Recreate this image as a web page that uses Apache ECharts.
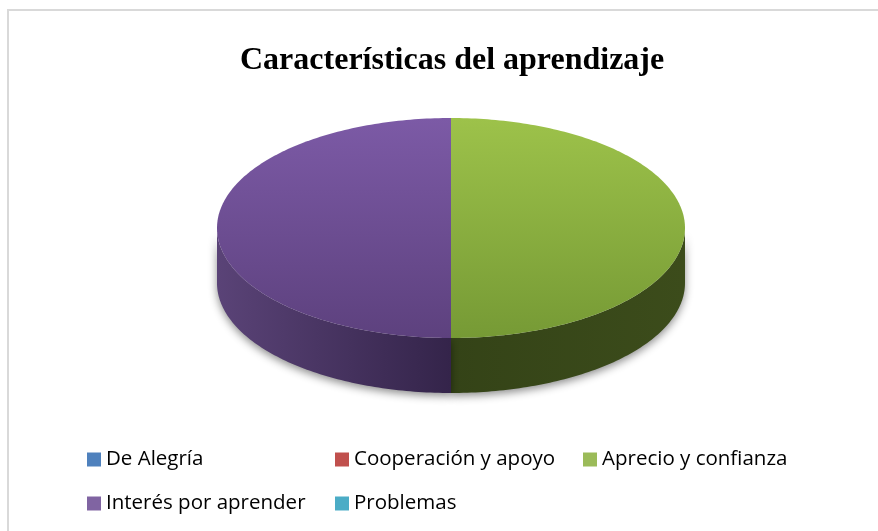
<!DOCTYPE html>
<html>
<head>
<meta charset="utf-8">
<script src="https://cdn.jsdelivr.net/npm/echarts@6/dist/echarts.min.js"></script>
<style>
  html, body { margin: 0; padding: 0; background: #fff; }
  #chart { width: 878px; height: 531px; }
</style>
</head>
<body>
<div id="chart"></div>
<script>
// datos del gráfico
var categorias = ['De Alegría', 'Cooperación y apoyo', 'Aprecio y confianza', 'Interés por aprender', 'Problemas'];
var valores = [0, 0, 50, 50, 0];
var colores = ['#4f81bd', '#c0504d', '#9bbb59', '#8064a2', '#4bacc6'];
// caras superiores (arriba, abajo) y laterales (izq, der)
var coloresTop = [['#5b8fd0', '#3f6da6'], ['#d35e5a', '#a8403d'], ['#9dc24a', '#769a35'], ['#7c5aa6', '#5d417e'], ['#55bcd8', '#3a93aa']];
var coloresLado = [['#2b4a70', '#213a58'], ['#6e2b29', '#562120'], ['#344317', '#3c4c1b'], ['#5a4377', '#34244a'], ['#2a6575', '#1f4d59']];

// geometría de la tarta 3D
var cx = 451, cy = 228, rx = 234, ry = 110, alto = 55;

var total = valores.reduce(function (a, b) { return a + b; }, 0);
var inicios = [];
var acum = 0;
valores.forEach(function (v) { inicios.push(acum / total * 360); acum += v; });

function punto(grados, dy) {
  var t = grados * Math.PI / 180;
  return [cx + rx * Math.sin(t), cy - ry * Math.cos(t) + (dy || 0)];
}

function renderItem(params, api) {
  var i = params.dataIndex;
  var v = api.value(1);
  if (!v) return;
  var a0 = inicios[i];
  var a1 = a0 + v / total * 360;
  var hijos = [];

  // lado visible (entre 90 y 270 grados)
  var s0 = Math.max(a0, 90), s1 = Math.min(a1, 270);
  if (s1 > s0) {
    var pts = [], g;
    for (g = s0; g <= s1; g += 1) pts.push(punto(g));
    pts.push(punto(s1));
    for (g = s1; g >= s0; g -= 1) pts.push(punto(g, alto));
    pts.push(punto(s0, alto));
    hijos.push({
      type: 'polygon',
      z2: 1,
      shape: { points: pts },
      style: {
        fill: new echarts.graphic.LinearGradient(0, 0, 1, 0, [
          { offset: 0, color: coloresLado[i][0] },
          { offset: 1, color: coloresLado[i][1] }
        ]),
        shadowColor: 'rgba(0,0,0,0.45)',
        shadowBlur: 9,
        shadowOffsetY: 3
      }
    });
  }

  // cara superior
  var top = [[cx, cy]];
  for (var k = a0; k <= a1; k += 1) top.push(punto(k));
  top.push(punto(a1));
  hijos.push({
    type: 'polygon',
    z2: 10,
    shape: { points: top },
    style: {
      fill: new echarts.graphic.LinearGradient(0, 0, 0, 1, [
        { offset: 0, color: coloresTop[i][0] },
        { offset: 1, color: coloresTop[i][1] }
      ])
    }
  });
  return { type: 'group', children: hijos };
}

var legendaBase = {
  orient: 'vertical',
  top: 444,
  itemWidth: 14,
  itemHeight: 14,
  itemGap: 23,
  icon: 'rect',
  selectedMode: false,
  textStyle: { fontFamily: 'Open Sans', fontSize: 20.5, color: '#000', lineHeight: 20 }
};

var chart = echarts.init(document.getElementById('chart'));
chart.setOption({
  animation: false,
  color: colores,
  title: {
    text: 'Características del aprendizaje',
    left: 235,
    top: 40,
    textStyle: { fontFamily: 'Liberation Serif', fontWeight: 'bold', fontSize: 32, color: '#000' }
  },
  graphic: [{
    type: 'rect',
    shape: { x: 8, y: 10, width: 900, height: 560 },
    style: { fill: 'none', stroke: '#d9d9d9', lineWidth: 2 },
    silent: true
  }],
  legend: [
    Object.assign({}, legendaBase, { left: 82, data: [categorias[0], categorias[3]] }),
    Object.assign({}, legendaBase, { left: 330, data: [categorias[1], categorias[4]] }),
    Object.assign({}, legendaBase, { left: 578, data: [categorias[2]] })
  ],
  series: [
    {
      // solo para la leyenda
      type: 'pie',
      radius: [0, 0],
      silent: true,
      label: { show: false },
      data: categorias.map(function (c, i) { return { name: c, value: valores[i] }; })
    },
    {
      type: 'custom',
      coordinateSystem: 'none',
      silent: true,
      renderItem: renderItem,
      data: valores.map(function (v, i) { return [i, v]; })
    }
  ]
});
</script>
</body>
</html>
